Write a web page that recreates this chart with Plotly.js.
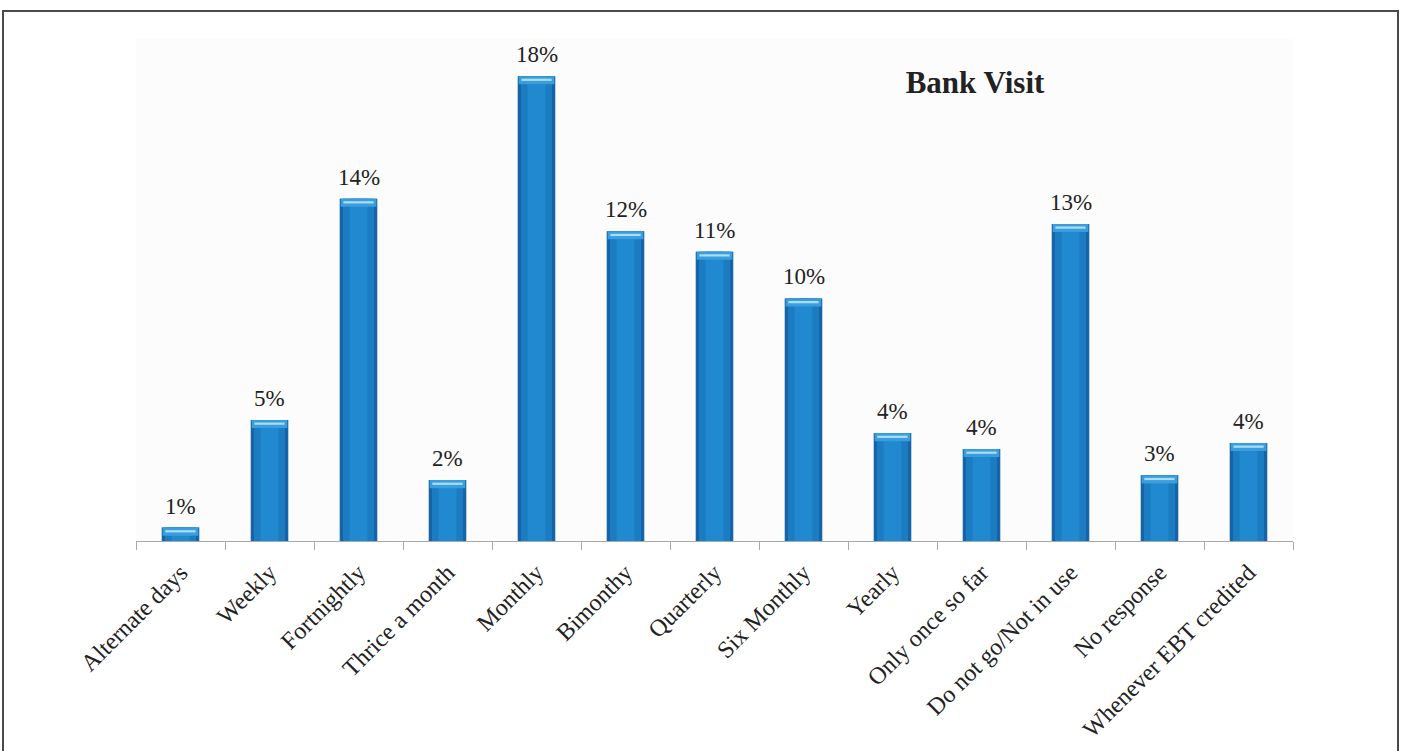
<!DOCTYPE html>
<html>
<head>
<meta charset="utf-8">
<script src="https://cdn.plot.ly/plotly-3.0.1.min.js"></script>
<style>
  html, body { margin: 0; padding: 0; background: #ffffff; overflow: hidden; }
  #wrap { position: relative; width: 1406px; height: 751px; }
  #chart { width: 1406px; height: 751px; }
  #frame {
    position: absolute; left: 2px; top: 10px; width: 1397px; height: 760px;
    border: 2px solid #4a4a4a; pointer-events: none; box-sizing: border-box;
  }
</style>
</head>
<body>
<div id="wrap">
  <div id="chart"></div>
  <div id="frame"></div>
</div>
<script>
// How often respondents visit the bank (% of respondents)
const categories = [
  "Alternate days", "Weekly", "Fortnightly", "Thrice a month", "Monthly",
  "Bimonthy", "Quarterly", "Six Monthly", "Yearly", "Only once so far",
  "Do not go/Not in use", "No response", "Whenever EBT credited"
];
const sharePct = [0.53, 4.79, 13.55, 2.41, 18.4, 12.26, 11.45, 9.6, 4.27, 3.64, 12.55, 2.6, 3.88];

const serif = "Liberation Serif, Times New Roman, serif";

// Cylinder-like shading: layers of narrowing bars plus a lighter top cap
const capDepth = 0.32;
const glintDepth = 0.09;

function bodyLayer(width, color) {
  return {
    type: "bar",
    x: categories,
    y: sharePct,
    width: width,
    marker: { color: color, line: { width: 0 } },
    textposition: "none",
    hoverinfo: "skip",
    showlegend: false
  };
}

function capLayer(width, depth, offsetFromTop, color) {
  return {
    type: "bar",
    x: categories,
    y: sharePct.map(() => depth),
    base: sharePct.map(v => v - offsetFromTop - depth),
    width: width,
    marker: { color: color, line: { width: 0 } },
    textposition: "none",
    hoverinfo: "skip",
    showlegend: false
  };
}

const traces = [
  bodyLayer(0.43, "#8fb5d2"),
  bodyLayer(0.415, "#1563a6"),
  bodyLayer(0.35, "#1b7cc2"),
  bodyLayer(0.2, "#2189d0"),
  capLayer(0.40, capDepth, 0, "#3a9ddc"),
  capLayer(0.34, glintDepth, 0.1, "#a9dcf5")
];

// Percentage labels sit just above each bar, rounded from the same values
const valueLabels = categories.map((c, i) => ({
  x: c,
  y: sharePct[i],
  xref: "x",
  yref: "y",
  text: sharePct[i].toFixed(0) + "%",
  showarrow: false,
  yanchor: "bottom",
  yshift: 7,
  font: { family: serif, size: 23, color: "#222222" }
}));

const layout = {
  width: 1406,
  height: 751,
  margin: { l: 136, r: 113, t: 39, b: 210 },
  paper_bgcolor: "#ffffff",
  plot_bgcolor: "#fcfcfc",
  barmode: "overlay",
  showlegend: false,
  font: { family: serif, color: "#222222" },
  title: {
    text: "<b>Bank Visit</b>",
    x: 975 / 1406,
    xanchor: "center",
    y: 1 - 82 / 751,
    yanchor: "middle",
    font: { family: serif, size: 31, color: "#222222" }
  },
  annotations: valueLabels,
  xaxis: {
    type: "category",
    tickangle: -45,
    tickfont: { family: serif, size: 24, color: "#222222" },
    ticklabelstandoff: 7,
    showline: true,
    linecolor: "#a8a8a8",
    linewidth: 1,
    ticks: "outside",
    tickson: "boundaries",
    ticklen: 8,
    tickcolor: "#a8a8a8",
    showgrid: false,
    zeroline: false,
    fixedrange: true
  },
  yaxis: {
    range: [0, 19.87],
    visible: false,
    showgrid: false,
    zeroline: false,
    fixedrange: true
  }
};

Plotly.newPlot("chart", traces, layout, { displayModeBar: false, staticPlot: true });
</script>
</body>
</html>
